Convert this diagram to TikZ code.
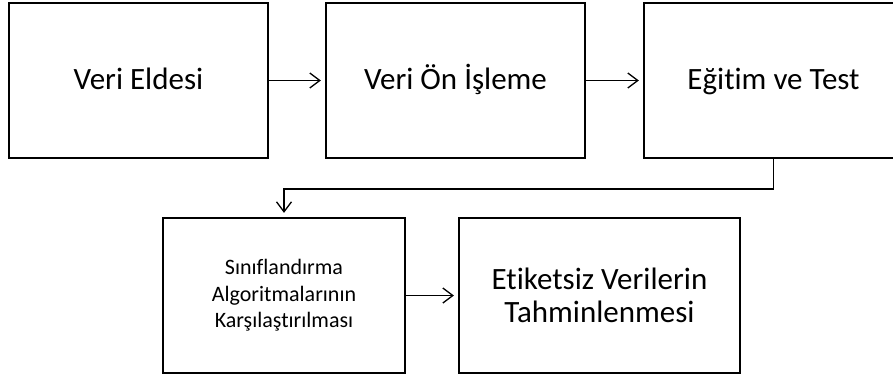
\documentclass[tikz,border=0pt]{standalone}
\usepackage{fontspec}
\setmainfont{Carlito}[Ligatures=NoCommon]
\usetikzlibrary{positioning,arrows.meta}
\definecolor{fcink}{HTML}{000000}
\tikzset{
  stage/.style   ={draw=fcink, line width=2.2pt, fill=white, inner sep=0pt,
                   minimum height=155pt, align=center},
  bigtxt/.style  ={font=\fontsize{31}{32.5}\selectfont},
  toptxt/.style  ={bigtxt, text height=23pt, text depth=5pt},
  smalltxt/.style={font=\fontsize{22}{26.7}\selectfont},
  flow/.style    ={-{Straight Barb[length=10pt,width=15pt]}, line width=1.3pt,
                   shorten >=4pt, fcink},
}

\begin{document}
\begin{tikzpicture}[x=1pt,y=-1pt]
  \useasboundingbox (0,0) rectangle (893,378);
  % top row
  \node[stage, toptxt, minimum width=259pt] (eldesi) at (138.5,80.5) {Veri Eldesi};
  \node[stage, toptxt, minimum width=259pt] (onisleme) at (455.5,80.5) {Veri Ön İşleme};
  \node[stage, toptxt, minimum width=259pt] (egitim) at (773.5,80.5) {Eğitim ve Test};
  % bottom row
  \node[stage, smalltxt, minimum width=242pt] (sinif) at (284,295.5)
       {Sınıflandırma\\Algoritmalarının\\Karşılaştırılması};
  \node[stage, bigtxt, minimum width=281pt] (tahmin) at (599.5,295.5)
       {Etiketsiz Verilerin\\Tahminlenmesi};
  % connectors
  \draw[flow] (eldesi.east) -- (onisleme.west);
  \draw[flow] (onisleme.east) -- (egitim.west);
  \draw[flow] (egitim.south) -- ++(0,30) -| (sinif.north);
  \draw[flow] (sinif.east) -- (tahmin.west);
\end{tikzpicture}
\end{document}
